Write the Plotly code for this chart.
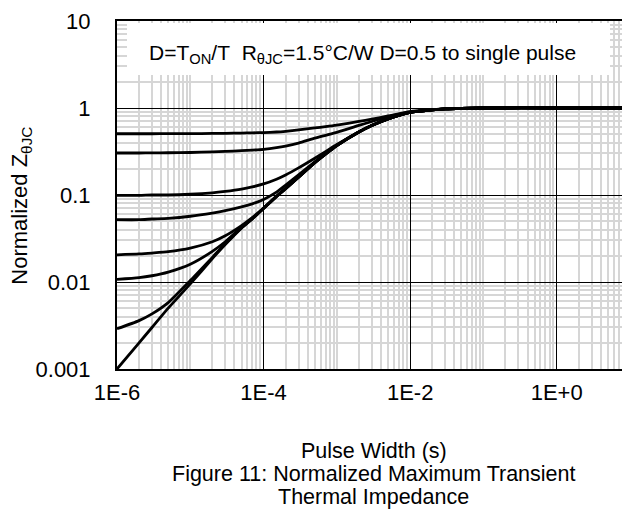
import plotly.graph_objects as go

# ---- data ----
pulse_width_s = [1e-6, 2e-6, 3e-6, 5e-6, 1e-5, 2e-5, 3e-5, 5e-5, 7e-5, 1e-4,
                 1.5e-4, 2e-4, 3e-4, 5e-4, 7e-4, 1e-3, 2e-3, 3e-3, 5e-3, 1e-2,
                 2e-2, 3e-2, 5e-2, 1e-1, 1, 10]

z_d050 = [0.506, 0.506, 0.506, 0.507, 0.508, 0.510, 0.512, 0.515, 0.518, 0.522,
          0.530, 0.540, 0.560, 0.590, 0.610, 0.635, 0.700, 0.745, 0.810, 0.910,
          0.955, 0.977, 0.990, 1.0, 1.0, 1.0]
z_d030 = [0.304, 0.304, 0.305, 0.306, 0.308, 0.313, 0.317, 0.323, 0.328, 0.335,
          0.350, 0.365, 0.395, 0.450, 0.485, 0.525, 0.630, 0.700, 0.790, 0.900,
          0.952, 0.976, 0.990, 1.0, 1.0, 1.0]
z_d010 = [0.099, 0.099, 0.100, 0.100, 0.102, 0.106, 0.110, 0.117, 0.124, 0.134,
          0.152, 0.170, 0.205, 0.265, 0.315, 0.380, 0.535, 0.632, 0.751, 0.890,
          0.950, 0.975, 0.990, 1.0, 1.0, 1.0]
z_d005 = [0.052, 0.052, 0.053, 0.054, 0.057, 0.062, 0.066, 0.073, 0.079, 0.089,
          0.108, 0.130, 0.170, 0.240, 0.298, 0.372, 0.531, 0.630, 0.750, 0.890,
          0.950, 0.975, 0.990, 1.0, 1.0, 1.0]
z_d002 = [0.0205, 0.0210, 0.0215, 0.0223, 0.0245, 0.0290, 0.0340, 0.0445, 0.0550, 0.0710,
          0.097, 0.119, 0.161, 0.236, 0.296, 0.371, 0.530, 0.630, 0.750, 0.890,
          0.950, 0.975, 0.990, 1.0, 1.0, 1.0]
z_d001 = [0.0107, 0.0112, 0.0118, 0.0130, 0.0160, 0.0225, 0.0290, 0.0425, 0.0535, 0.0705,
          0.0965, 0.1185, 0.1605, 0.2355, 0.2955, 0.3705, 0.530, 0.630, 0.750, 0.890,
          0.950, 0.975, 0.990, 1.0, 1.0, 1.0]
z_d0002 = [0.0029, 0.0036, 0.0043, 0.0058, 0.0104, 0.0192, 0.0275, 0.0420, 0.0532, 0.0702,
           0.0960, 0.1182, 0.1602, 0.2352, 0.2952, 0.3702, 0.530, 0.630, 0.750, 0.890,
           0.950, 0.975, 0.990, 1.0, 1.0, 1.0]
z_single = [0.0010, 0.0020, 0.0030, 0.0050, 0.0095, 0.0186, 0.0270, 0.0416, 0.0530, 0.0700,
            0.0955, 0.1180, 0.1600, 0.2350, 0.2950, 0.3700, 0.530, 0.630, 0.750, 0.890,
            0.950, 0.975, 0.990, 1.0, 1.0, 1.0]

series = [z_d050, z_d030, z_d010, z_d005, z_d002, z_d001, z_d0002, z_single]

x_tick_vals = [1e-6, 1e-4, 1e-2, 1]
x_tick_text = ["1E-6", "1E-4", "1E-2", "1E+0"]
y_tick_vals = [0.001, 0.01, 0.1, 1, 10]
y_tick_text = ["0.001", "0.01", "0.1", "1", "10"]

x_minor = [k * 10.0 ** e for e in range(-6, 1) for k in range(1, 10)
           if not (k == 1 and e % 2 == 0)]
y_minor = [k * 10.0 ** e for e in range(-3, 1) for k in range(2, 10)]

FONT = "Liberation Sans, Arial, sans-serif"

fig = go.Figure()
for s in series:
    fig.add_trace(go.Scatter(x=pulse_width_s, y=s, mode="lines",
                             line=dict(color="black", width=2.8, shape="spline", smoothing=0.6),
                             showlegend=False, hoverinfo="skip"))

fig.update_layout(
    width=622, height=502,
    margin=dict(l=109, r=0, t=13, b=141),
    paper_bgcolor="white", plot_bgcolor="white",
    font=dict(family=FONT, size=22, color="black"),
    showlegend=False,
)

fig.update_xaxes(
    type="log", range=[-6, 1],
    tickmode="array", tickvals=x_tick_vals, ticktext=x_tick_text,
    ticks="", ticklabelstandoff=3,
    tickfont=dict(size=22),
    showgrid=True, gridcolor="black", gridwidth=1,
    minor=dict(tickmode="array", tickvals=x_minor, showgrid=True,
               gridcolor="#d6d6d6", gridwidth=1.5, ticks=""),
    showline=True, linecolor="black", linewidth=2, mirror=True,
    zeroline=False,
)
fig.update_yaxes(
    type="log", range=[-3, 1],
    tickmode="array", tickvals=y_tick_vals, ticktext=y_tick_text,
    ticks="", ticklabelstandoff=20,
    tickfont=dict(size=22),
    showgrid=True, gridcolor="black", gridwidth=1,
    minor=dict(tickmode="array", tickvals=y_minor, showgrid=True,
               gridcolor="#d6d6d6", gridwidth=1.5, ticks=""),
    showline=True, linecolor="black", linewidth=2, mirror=False,
    zeroline=False,
)

# white box behind the note
fig.add_shape(type="rect", xref="paper", yref="paper",
              x0=0.0195, x1=0.961, y0=0.845, y1=0.994,
              fillcolor="white", line=dict(width=0), layer="above")

fig.add_annotation(xref="paper", yref="paper", x=0.058, y=0.905,
                   xanchor="left", yanchor="middle", showarrow=False,
                   text="D=T<sub>ON</sub>/T\u00a0 R<sub>θJC</sub>=1.5°C/W D=0.5 to single pulse",
                   font=dict(size=21))

fig.add_annotation(xref="paper", yref="paper", x=-0.186, y=0.468,
                   xanchor="center", yanchor="middle", showarrow=False, textangle=-90,
                   text="Normalized Z<sub>θJC</sub>", font=dict(size=22))

captions = ["Pulse Width (s)", "Figure 11: Normalized Maximum Transient", "Thermal Impedance"]
cap_y = [-0.2370, -0.3025, -0.3685]
for t, yy in zip(captions, cap_y):
    fig.add_annotation(xref="paper", yref="paper", x=0.5, y=yy,
                       xanchor="center", yanchor="middle", showarrow=False,
                       text=t, font=dict(size=21.5))

fig.write_html("out.html")
